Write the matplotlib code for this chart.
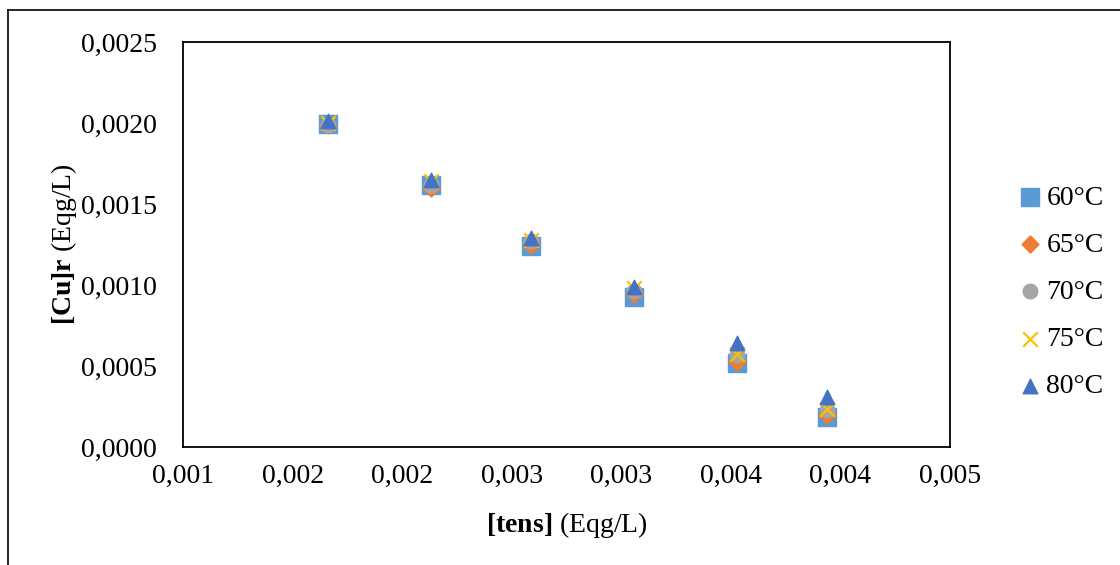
import numpy as np
import matplotlib.pyplot as plt
from matplotlib.lines import Line2D

# data
tens = [0.00216, 0.00263, 0.00309, 0.00356, 0.00403, 0.00444]
cu_60 = [0.001994, 0.001617, 0.00124, 0.000926, 0.000519, 0.000185]
cu_65 = [0.00199, 0.00160, 0.00125, 0.000944, 0.000525, 0.000200]
cu_70 = [0.00199, 0.00162, 0.00127, 0.000960, 0.000570, 0.000230]
cu_75 = [0.00200, 0.00164, 0.00128, 0.000980, 0.000575, 0.000235]
cu_80 = [0.00201, 0.00165, 0.00129, 0.000990, 0.000640, 0.000310]
series_labels = ["60°C", "65°C", "70°C", "75°C", "80°C"]
x_ticklabels = ["0,001", "0,002", "0,002", "0,003", "0,003", "0,004", "0,004", "0,005"]
y_ticklabels = ["0,0000", "0,0005", "0,0010", "0,0015", "0,0020", "0,0025"]

plt.rcParams['font.family'] = ['Liberation Serif', 'DejaVu Serif']
plt.rcParams['mathtext.fontset'] = 'custom'
plt.rcParams['mathtext.rm'] = 'Liberation Serif'
plt.rcParams['mathtext.bf'] = 'Liberation Serif:bold'

fs = 20

fig = plt.figure(figsize=(11.2, 5.65), dpi=100)
ax = fig.add_axes([183 / 1120, 118 / 565, 767 / 1120, 405 / 565])

styles = [
    dict(marker='s', color='#5B9BD5', s=150),
    dict(marker='D', color='#ED7D31', s=75),
    dict(marker='o', color='#A5A5A5', s=110),
    dict(marker='x', color='#FFC000', s=110, linewidths=1.6),
    dict(marker='^', color='#4472C4', s=110),
]
all_series = [cu_60, cu_65, cu_70, cu_75, cu_80]
for vals, lab, st in zip(all_series, series_labels, styles):
    st = dict(st)
    c = st.pop('color')
    ax.scatter(tens, vals, c=c, label=lab, zorder=3, **st)

ax.set_xlim(0.0015, 0.005)
ax.set_ylim(0, 0.0025)
ax.set_xticks(np.linspace(0.0015, 0.005, len(x_ticklabels)))
ax.set_xticklabels(x_ticklabels)
ax.set_yticks(np.linspace(0, 0.0025, len(y_ticklabels)))
ax.set_yticklabels(y_ticklabels)
ax.tick_params(length=0, labelsize=fs)
ax.tick_params(axis='y', pad=19)
ax.tick_params(axis='x', pad=12)
for sp in ax.spines.values():
    sp.set_linewidth(1.3)
    sp.set_color('black')

ax.set_xlabel(r"$\mathbf{[tens]}$ (Eqg/L)", fontsize=fs, labelpad=15)
ax.set_ylabel(r"$\mathbf{[Cu]r}$ (Eqg/L)", fontsize=fs, labelpad=1)

leg = fig.legend(loc='upper left', bbox_to_anchor=(1002 / 1120, 1 - 174 / 565),
                 frameon=False, fontsize=fs, handletextpad=0.0,
                 labelspacing=0.78, handlelength=1.2, borderaxespad=0)

# outer chart border (top and left visible)
fig.add_artist(Line2D([8 / 1120, 1.0], [1 - 10 / 565, 1 - 10 / 565],
                      color='black', lw=1.2, transform=fig.transFigure))
fig.add_artist(Line2D([8 / 1120, 8 / 1120], [0, 1 - 10 / 565],
                      color='black', lw=1.2, transform=fig.transFigure))

fig.savefig("out.png", dpi=100)
